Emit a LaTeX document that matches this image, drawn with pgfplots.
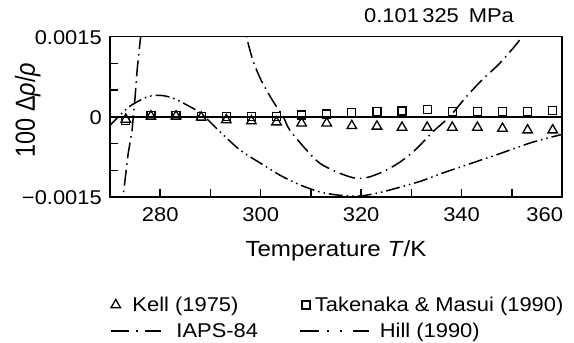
\documentclass[border=0pt]{standalone}
\usepackage{fontspec}
\usepackage{graphicx}
\setmainfont{Liberation Sans}[FakeStretch=1.1]
\newfontfamily\plainfont{Liberation Sans}
\usepackage{pgfplots}
\pgfplotsset{compat=1.18}
\pgfplotsset{
  kellleg/.style={legend image code/.code={\draw[##1] plot coordinates {(5bp,0bp)};}},
  takleg/.style={legend image code/.code={\draw[##1] plot coordinates {(6bp,0bp)};}},
  iapsleg/.style={legend image code/.code={\draw[##1, dash pattern=on 18bp off 7bp on 2bp off 7bp on 20bp off 5bp] (0bp,0bp) -- (50bp,0bp);}},
  hillleg/.style={legend image code/.code={\draw[##1, dash pattern=on 19bp off 8bp on 2bp off 11bp on 2bp off 11bp on 17bp off 5bp] (0bp,0bp) -- (69bp,0bp);}},
}
\pgfplotstableread{
T dev
273.15 -0.00005
278.15 0.00001
283.15 0.00001
288.15 -0.00001
293.15 -0.00006
298.15 -0.00008
303.15 -0.00010
308.15 -0.00012
313.15 -0.00012
318.15 -0.00017
323.15 -0.00018
328.15 -0.00020
333.15 -0.00020
338.15 -0.00020
343.15 -0.00020
348.15 -0.00022
353.15 -0.00025
358.15 -0.00025
}\kell
\pgfplotstableread{
T dev
273.15 -0.00007
278.15 0.00002
283.15 0.00002
288.15 0.00000
293.15 0.00000
298.15 0.00000
303.15 0.00001
308.15 0.00003
313.15 0.00005
318.15 0.00008
323.15 0.00010
328.15 0.00011
333.15 0.00013
338.15 0.00010
343.15 0.00010
348.15 0.00010
353.15 0.00010
358.15 0.00012
}\takenaka
\begin{document}
\begin{tikzpicture}
\useasboundingbox (-110bp,-146bp) rectangle (464bp,197bp);
\begin{axis}[
  at={(0,0)}, anchor=south west,
  scale only axis, width=452bp, height=160.5bp,
  xmin=270, xmax=360, ymin=-0.0015, ymax=0.0015,
  axis line style={line width=1.8bp},
  xtick={270,280,290,300,310,320,330,340,350,360},
  xticklabels={{},280,{},300,{},320,{},340,{},{\hspace{2bp}\llap{360}}},
  ytick={-0.0015,-0.001,-0.0005,0,0.0005,0.001,0.0015},
  yticklabels={−0.0015,{},{},0,{},{},0.0015},
  scaled y ticks=false, scaled x ticks=false,
  tick align=inside, xtick pos=bottom, ytick pos=left,
  major tick length=8bp,
  tick style={line width=1.5bp, black},
  xticklabel style={font=\fontsize{20}{23}\selectfont, anchor=north, inner sep=0pt, yshift=-10.5bp},
  yticklabel style={font=\fontsize{20}{23}\selectfont, anchor=east, inner sep=0pt, xshift=-8bp, yshift=-1bp},
  xlabel={Temperature \textit{T}/K},
  ylabel={\scalebox{1}[1.18]{\plainfont 100 Δ\textit{ρ}/\textit{ρ}}},
  xlabel style={font=\fontsize{22}{26}\selectfont, at={(axis description cs:0.5,0)}, anchor=base, yshift=-59.5bp, inner sep=0pt},
  ylabel style={font=\fontsize{23.5}{28}\selectfont, at={(axis description cs:-0.166,0.542)}, anchor=base, inner sep=0pt},
  title={0.101\,325\enspace MPa},
  title style={font=\fontsize{20}{24}\selectfont, at={(axis description cs:0.728,1.051)}, anchor=base, inner sep=0pt},
  legend columns=2,
  legend cell align=left,
  legend style={at={(axis description cs:0,0)}, anchor=north west, yshift=-100bp,
    draw=none, fill=none, inner sep=0pt, outer sep=0pt, row sep=10bp, column sep=0pt,
    font=\fontsize{20}{24}\selectfont, nodes={inner sep=0pt},
    /tikz/column 1/.style={column sep=15bp},
    /tikz/column 2/.style={column sep=41bp},
    /tikz/column 3/.style={column sep=10.25bp}},
]
\addplot[black, line width=1.8bp, forget plot] coordinates {(270,0) (360,0)};
\addplot[only marks, mark=triangle, mark size=5.5bp, mark options={line width=1.3bp, black, fill=none}, kellleg]
  table[x=T, y=dev] {\kell};
\addlegendentry{\hspace{-44bp}Kell (1975)}
\addplot[only marks, mark=square, mark size=4bp, mark options={line width=1.3bp, black, fill=none}, takleg]
  table[x=T, y=dev] {\takenaka};
\addlegendentry{\hspace{-65bp}Takenaka \& Masui (1990)}
\addplot[black, line width=1.5bp, smooth, dash pattern=on 16bp off 5bp on 1.5bp off 5bp, iapsleg]
  coordinates {(296.6,0.0019) (297.2,0.0015) (298.4,0.00107) (300,0.0007) (302.4,0.0003) (304.5,0)
   (305.8,-0.00025) (309.2,-0.00063) (311.8,-0.00087) (315.1,-0.00103) (318.4,-0.00114) (321,-0.00114)
   (324.3,-0.00103) (327.7,-0.00085) (331,-0.0006) (334.3,-0.00028) (337.6,0) (341,0.00038)
   (344.2,0.0007) (347.6,0.001) (351.6,0.00144) (352.7,0.0017)};
\addlegendentry{IAPS-84}
\addplot[black, line width=1.5bp, dash pattern=on 16bp off 5bp on 1.5bp off 5bp, forget plot]
  coordinates {(272.3,-0.0018) (272.6,-0.0015) (273.6,-0.0007) (274.4,-0.00025) (275,0.00037)
   (275.4,0.00087) (276.1,0.0015) (276.5,0.0019)};
\addplot[black, line width=1.5bp, smooth, dash pattern=on 14bp off 4bp on 1.5bp off 4bp on 1.5bp off 4bp, hillleg]
  coordinates {(269.7,-0.00019) (272,0.00003) (274,0.0002) (277.4,0.00037) (280,0.0004)
   (282.5,0.00035) (285.3,0.00022) (288,0.00007) (290.5,-0.00015) (292,-0.00029) (296,-0.00063)
   (300,-0.00087) (304,-0.0011) (308,-0.00128) (312,-0.00141) (316,-0.00147) (320,-0.00148)
   (324,-0.00141) (328,-0.00131) (332,-0.0012) (336,-0.00106) (341,-0.0009) (347.6,-0.00069)
   (354,-0.00048) (360,-0.00033)};
\addlegendentry{Hill (1990)}
\end{axis}
\end{tikzpicture}
\end{document}
